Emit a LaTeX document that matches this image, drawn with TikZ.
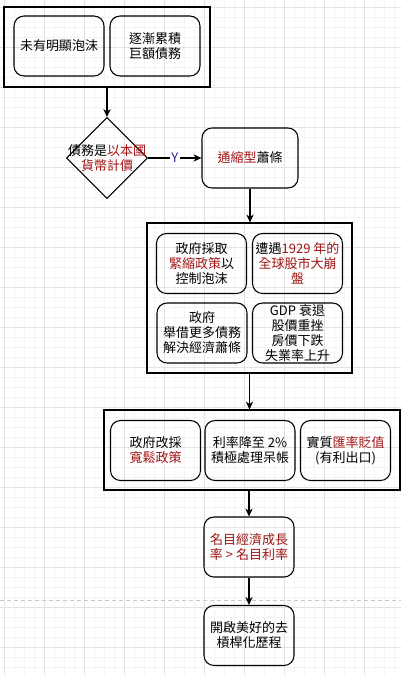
\documentclass[tikz,border=0pt]{standalone}
\usepackage{fontspec}
\setmainfont{Noto Sans CJK TC}
\usetikzlibrary{arrows.meta,positioning,shapes.geometric,calc}
\definecolor{deepred}{RGB}{160,20,20}
\definecolor{ylabel}{RGB}{60,30,150}
\definecolor{gridmajor}{RGB}{226,226,226}
\definecolor{gridminor}{RGB}{244,244,244}
\definecolor{pageline}{RGB}{200,200,200}

\begin{document}
\begin{tikzpicture}[x=0.75pt, y=-0.75pt,
    txt/.style={font=\fontsize{9.75}{11.25}\selectfont, align=center},
    card/.style={txt, draw, line width=0.8pt, rounded corners=7.5pt,
        minimum width=67.5pt, minimum height=45pt, inner xsep=1pt, inner ysep=1pt},
    group/.style={draw, line width=0.8pt, inner sep=0pt},
    flow/.style={-{Stealth[length=6pt,width=5.5pt]}, line width=0.8pt}]
    \useasboundingbox (0,0) rectangle (401,675);
    \fill[white] (0,0) rectangle (401,675);

    % Background grid
    \foreach \gx in {4,14,...,394} \draw[gridminor, line width=0.75pt] (\gx,0) -- (\gx,675);
    \foreach \gy in {7,17,...,667} \draw[gridminor, line width=0.75pt] (0,\gy) -- (401,\gy);
    \foreach \gx in {4,44,...,364} \draw[gridmajor, line width=0.75pt] (\gx,0) -- (\gx,675);
    \foreach \gy in {7,47,...,647} \draw[gridmajor, line width=0.75pt] (0,\gy) -- (401,\gy);
    \draw[pageline, line width=0.75pt, dash pattern=on 3pt off 2.25pt] (0,600) -- (401,600);

    % Top group
    \node[group, minimum width=154.5pt, minimum height=60pt] (grpTop) at (107,47) {};
    \node[card] (noBubble) at (59,46) {未有明顯泡沫};
    \node[card] (hugeDebt) at (155,46) {逐漸累積\\巨額債務};

    % Decision
    \node[diamond, draw, line width=0.8pt, minimum width=60.75pt, minimum height=60.75pt, inner sep=0pt,
        label={[txt]center:債務是\textcolor{deepred}{以本國}\\\textcolor{deepred}{貨幣計價}}] (homeCur) at (107,158) {};
    \node[card, minimum width=72pt] (deflation) at (250,158) {\textcolor{deepred}{通縮型}蕭條};

    % Middle group
    \node[group, minimum width=153.75pt, minimum height=112.5pt] (grpMid) at (249.5,298) {};
    \node[card] (tightPolicy) at (201.5,263.5) {政府採取\\\textcolor{deepred}{緊縮政策}以\\控制泡沫};
    \node[card] (crash) at (297.5,263.5) {遭遇\textcolor{deepred}{1929 年的}\\\textcolor{deepred}{全球股市大崩}\\\textcolor{deepred}{盤}};
    \node[card] (moreDebt) at (202,333) {政府\\舉借更多債務\\解決經濟蕭條};
    \node[card] (recession) at (297.5,333) {GDP 衰退\\股價重挫\\房價下跌\\失業率上升};

    % Lower group
    \node[group, minimum width=222pt, minimum height=60pt] (grpLow) at (252,450) {};
    \node[card] (loosePolicy) at (155.5,450.5) {政府改採\\\textcolor{deepred}{寬鬆政策}};
    \node[card] (lowRate) at (250,450.5) {利率降至 2\%\\積極處理呆帳};
    \node[card] (fxDrop) at (345.5,450.5) {實質\textcolor{deepred}{匯率貶值}\\(有利出口)};

    % Outcome
    \node[card] (nominal) at (249,547) {\textcolor{deepred}{名目經濟成長}\\\textcolor{deepred}{率 > 名目利率}};
    \node[card] (deleverage) at (249,635.5) {開啟美好的去\\槓桿化歷程};

    % Connectors
    \draw[flow] (grpTop.south) -- (homeCur.north);
    \draw[flow] (homeCur.east) -- node[txt, fill=white, inner sep=1pt, text=ylabel] (yesLabel) {Y} (deflation.west);
    \draw[flow] (deflation.south) -- (deflation.south |- grpMid.north);
    \draw[flow] (grpMid.south) -- (grpMid.south |- grpLow.north);
    \draw[flow] (grpLow.south -| nominal.north) -- (nominal.north);
    \draw[flow] (nominal.south) -- (deleverage.north);
\end{tikzpicture}
\end{document}
